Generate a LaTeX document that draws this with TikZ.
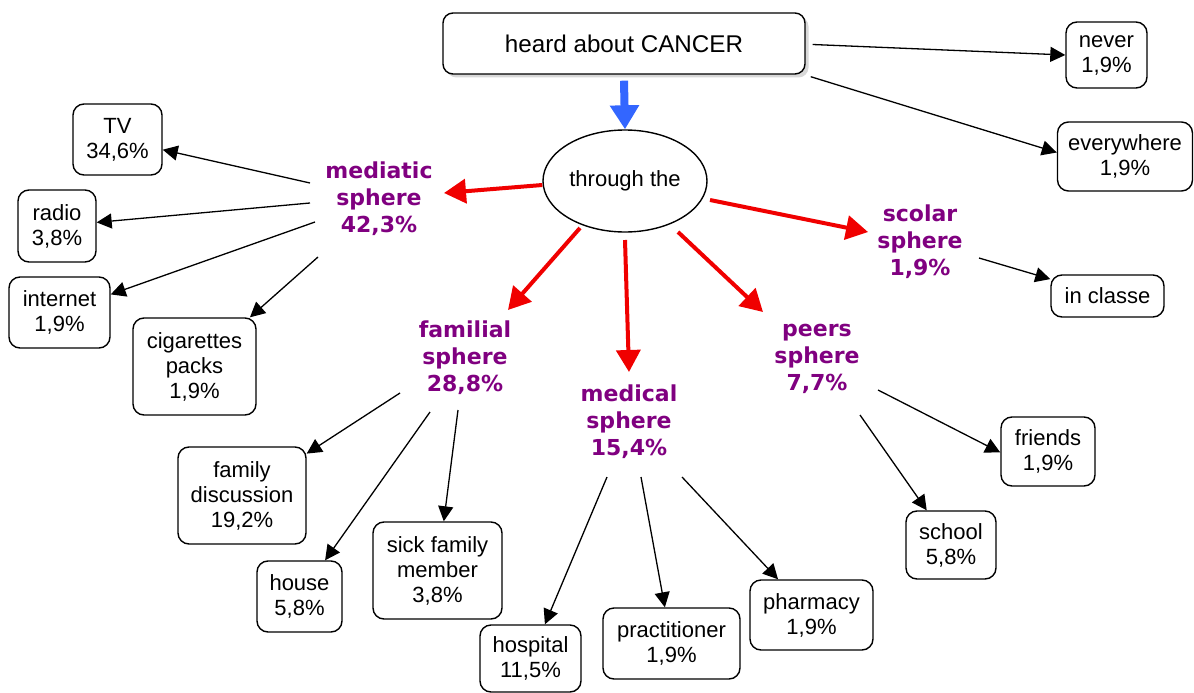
\documentclass[tikz,border=0pt]{standalone}
\usepackage{fontspec}
\setmainfont{Liberation Sans}
\newfontfamily\sphfont{DejaVu Sans}
\usetikzlibrary{arrows.meta,shapes.geometric,shadows}
\definecolor{sphpurple}{RGB}{128,0,128}
\definecolor{arrred}{RGB}{240,0,0}
\definecolor{arrblue}{RGB}{51,102,255}
\tikzset{
  box/.style={draw, line width=1.4pt, rounded corners=11pt, align=center, inner sep=0pt,
    font=\fontsize{22}{25}\selectfont},
  sph/.style={align=center, inner sep=0pt, text=sphpurple,
    font=\sphfont\bfseries\fontsize{22}{27}\selectfont},
  blk/.style={line width=1.3pt, -{Triangle[length=15pt,width=15pt]}},
  redarr/.style={draw=arrred, line width=4pt, -{Triangle[length=22pt,width=24pt]}},
  bluearr/.style={draw=arrblue, line width=8pt, -{Triangle[length=24pt,width=28pt]}}
}
\begin{document}
\begin{tikzpicture}[x=1pt,y=-1pt]
\useasboundingbox (0,0) rectangle (1194,693);
\fill[white] (0,0) rectangle (1194,693);

% top
\node[box, rounded corners=10pt, minimum width=362pt, minimum height=61pt,
  font=\fontsize{24.2}{27}\selectfont, fill=white,
  drop shadow={shadow xshift=3.5pt, shadow yshift=-3.5pt, fill=black!30}] (T) at (624,43.5) {heard about CANCER};
\node[box, minimum width=81pt, minimum height=66pt] (N) at (1106.5,55) {never\\1,9\%};
\node[box, minimum width=135pt, minimum height=69pt] (E) at (1125,156.5) {everywhere\\1,9\%};

% ellipse
\node[draw, ellipse, line width=1.4pt, minimum width=164pt, minimum height=102pt, inner sep=0pt,
  font=\fontsize{22}{25}\selectfont] (L) at (625,181) {through the};

% sphere labels
\node[sph] (M) at (379,199) {mediatic\\sphere\\42,3\%};
\node[sph] (F) at (465,358) {familial\\sphere\\28,8\%};
\node[sph] (D) at (629,422) {medical\\sphere\\15,4\%};
\node[sph] (P) at (817,359) {peers\\sphere\\7,7\%};
\node[sph] (S) at (920,242) {scolar\\sphere\\1,9\%};

% leaf boxes
\node[box, minimum width=89pt, minimum height=71pt] (tv) at (117.5,139.5) {TV\\34,6\%};
\node[box, minimum width=78pt, minimum height=72pt] (radio) at (57,226) {radio\\3,8\%};
\node[box, minimum width=101pt, minimum height=71pt] (internet) at (59.5,312.5) {internet\\1,9\%};
\node[box, minimum width=123pt, minimum height=97pt] (cig) at (194.5,366.5) {cigarettes\\packs\\1,9\%};
\node[box, minimum width=113pt, minimum height=42pt] (classe) at (1107.5,296) {in classe};
\node[box, minimum width=94pt, minimum height=69pt] (friends) at (1048,451.5) {friends\\1,9\%};
\node[box, minimum width=90pt, minimum height=68pt] (school) at (951,545) {school\\5,8\%};
\node[box, minimum width=123pt, minimum height=70pt] (pharm) at (811.5,615) {pharmacy\\1,9\%};
\node[box, minimum width=137pt, minimum height=71pt] (pract) at (671.5,643.5) {practitioner\\1,9\%};
\node[box, minimum width=101pt, minimum height=67pt] (hosp) at (530.5,658.5) {hospital\\11,5\%};
\node[box, minimum width=129pt, minimum height=97pt] (sick) at (437.5,570.5) {sick family\\member\\3,8\%};
\node[box, minimum width=85pt, minimum height=71pt] (house) at (299.5,596.5) {house\\5,8\%};
\node[box, minimum width=128pt, minimum height=97pt] (famdisc) at (242,495.5) {family\\discussion\\19,2\%};

% top connectors
\draw[blk] ([xshift=7pt,yshift=-1pt]T.east) -- (N.west);
\draw[blk] ([xshift=5pt,yshift=-2pt]T.south east) -- ([yshift=4pt]E.west);
\draw[bluearr] ([yshift=-6pt]T.south) -- (L.north);

% red arrows
\draw[redarr] ([yshift=-4pt]L.west) -- ([xshift=65pt,yshift=6pt]M.center);
\draw[redarr] ([xshift=85pt,yshift=-19pt]L.center) -- ([xshift=-52pt,yshift=10pt]S.center);
\draw[redarr] ([xshift=-45pt,yshift=-47pt]L.center) -- ([xshift=43pt,yshift=48pt]F.center);
\draw[redarr] ([yshift=-59pt]L.center) -- ([yshift=50pt]D.center);
\draw[redarr] ([xshift=53pt,yshift=-51pt]L.center) -- ([xshift=-54pt,yshift=47pt]P.center);

% mediatic
\draw[blk] ([xshift=-69pt,yshift=16pt]M.center) -- (tv);
\draw[blk] ([xshift=-69pt,yshift=-4pt]M.center) -- (radio);
\draw[blk] ([xshift=-64pt,yshift=-23pt]M.center) -- (internet);
\draw[blk] ([xshift=-61pt,yshift=-58pt]M.center) -- (cig);
% familial
\draw[blk] ([xshift=-65pt,yshift=-35pt]F.center) -- (famdisc);
\draw[blk] ([xshift=-35pt,yshift=-54pt]F.center) -- (house);
\draw[blk] ([xshift=-7pt,yshift=-52pt]F.center) -- (sick);
% medical
\draw[blk] ([xshift=-22pt,yshift=-55pt]D.center) -- (hosp);
\draw[blk] ([xshift=12pt,yshift=-55pt]D.center) -- (pract);
\draw[blk] ([xshift=53pt,yshift=-55pt]D.center) -- (pharm);
% peers
\draw[blk] ([xshift=61pt,yshift=-31pt]P.center) -- ([yshift=-1pt]friends.west);
\draw[blk] ([xshift=43pt,yshift=-56pt]P.center) -- (school);
% scolar
\draw[blk] ([xshift=59pt,yshift=-16pt]S.center) -- (classe);
\end{tikzpicture}
\end{document}
